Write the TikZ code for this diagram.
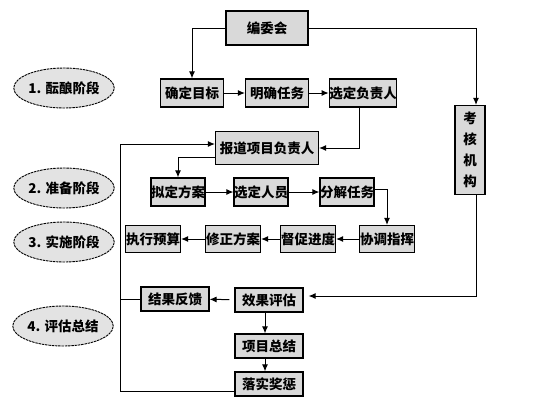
\documentclass[tikz,border=0pt]{standalone}
\usepackage{fontspec}
\setmainfont{Noto Sans CJK SC}
\usetikzlibrary{arrows.meta,shapes.geometric}

\begin{document}
\begin{tikzpicture}
  [x=1pt,y=-1pt,
   box/.style={draw,line width=1.2pt,fill=gray!30,inner sep=0pt,
     minimum height=28,font=\fontsize{13.5}{15}\selectfont\bfseries},
   phase/.style={ellipse,draw,dash pattern=on 2.5pt off 0.8pt,line width=0.9pt,fill=gray!22,
     minimum width=95,minimum height=40,inner sep=0pt,
     font=\fontsize{13.5}{15}\selectfont\bfseries},
   arr/.style={line width=1pt,-{Latex[length=7pt,width=6pt]}},
   line/.style={line width=1pt}]
  \useasboundingbox (0,0) rectangle (549,408);

  % phases
  \node[phase] (p1) at (64,88)  {1. 酝酿阶段};
  \node[phase] (p2) at (64,188) {2. 准备阶段};
  \node[phase] (p3) at (64,242) {3. 实施阶段};
  \node[phase] (p4) at (63,326) {4. 评估总结};

  % boxes
  \node[box,minimum width=82,minimum height=34] (bianwei) at (267,28) {编委会};
  \node[box,minimum width=63] (queding) at (192,93) {确定目标};
  \node[box,minimum width=63] (mingque) at (277,93) {明确任务};
  \node[box,minimum width=66] (xuanding) at (363,93) {选定负责人};
  \node[box,minimum width=30,minimum height=89,align=center,
        font=\fontsize{13.5}{21}\selectfont\bfseries] (kaohe) at (470,150) {考\\核\\机\\构};
  \node[box,minimum width=103,minimum height=33] (baodao) at (267,148) {报道项目负责人};
  \node[box,minimum width=54] (niding) at (178,192) {拟定方案};
  \node[box,minimum width=54] (renyuan) at (261,192) {选定人员};
  \node[box,minimum width=54] (fenjie) at (347,192) {分解任务};
  \node[box,minimum width=55,minimum height=27] (xietiao) at (387,239) {协调指挥};
  \node[box,minimum width=55,minimum height=27] (ducu) at (308,239) {督促进度};
  \node[box,minimum width=55,minimum height=27] (xiuzheng) at (233,239) {修正方案};
  \node[box,minimum width=55,minimum height=27] (zhixing) at (153,239) {执行预算};
  \node[box,minimum width=68,minimum height=24] (fankui) at (175,299) {结果反馈};
  \node[box,minimum width=68,minimum height=24] (xiaoguo) at (269,300) {效果评估};
  \node[box,minimum width=68,minimum height=24] (zongjie) at (269,346) {项目总结};
  \node[box,minimum width=68,minimum height=24] (luoshi) at (269,384) {落实奖惩};
  \coordinate (loop) at (120,144);

  % connectors
  \draw[arr] (bianwei.west) -| (queding.north);
  \draw[arr] (bianwei.east) -| ([xshift=6pt]kaohe.north);
  \foreach \from/\to in {queding/mingque,mingque/xuanding,niding/renyuan,
      renyuan/fenjie,xietiao/ducu,ducu/xiuzheng,xiuzheng/zhixing}
    \draw[arr] (\from) -- (\to);
  \draw[arr] ([xshift=-4pt]xuanding.south) |- (baodao.east);
  \draw[arr] ([yshift=-9pt]baodao.west) -| (niding.north);
  \draw[arr] ([yshift=3pt]fenjie.east) -| (xietiao.north);
  \draw[arr,shorten >=5pt] ([xshift=6pt]kaohe.south) |- ([yshift=4pt]xiaoguo.east);
  \draw[arr,shorten <=5pt] (xiaoguo) -- (fankui);
  \draw[arr] ([xshift=-4pt]xiaoguo.south) -- ([xshift=-4pt]zongjie.north);
  \draw[arr] ([xshift=-4pt]zongjie.south) -- ([xshift=-4pt]luoshi.north);
  \draw[arr] ([yshift=-7pt]luoshi.west) -| (loop) -- ([yshift=4pt]baodao.west);
  \draw[line] (fankui.west) -- (fankui.west -| loop);

\end{tikzpicture}
\end{document}
